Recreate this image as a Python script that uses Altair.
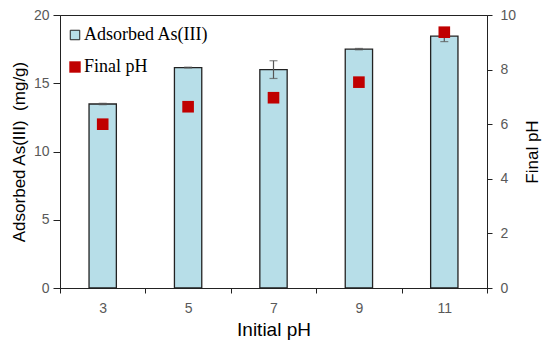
import altair as alt
import pandas as pd

initial_ph = ["3", "5", "7", "9", "11"]
adsorbed = [13.48, 16.15, 16.0, 17.5, 18.45]
adsorbed_err = [0.05, 0.03, 0.65, 0.05, 0.4]
final_ph = [6.0, 6.64, 6.97, 7.54, 9.37]

df = pd.DataFrame({
    "pH": initial_ph,
    "ads": adsorbed,
    "lo": [a - e for a, e in zip(adsorbed, adsorbed_err)],
    "hi": [a + e for a, e in zip(adsorbed, adsorbed_err)],
    "fph": final_ph,
    "s1": ["Adsorbed As(III)"] * 5,
    "s2": ["Final pH"] * 5,
})

x = alt.X("pH:N", sort=initial_ph, title="Initial pH",
          scale=alt.Scale(paddingInner=0, paddingOuter=0),
          axis=alt.Axis(labelAngle=0, tickBand="extent", tickSize=5, labelPadding=8,
                        titlePadding=5, titleFontSize=19))

yleft = alt.Y("ads:Q", title="Adsorbed As(III)\u00a0 (mg/g)",
              scale=alt.Scale(domain=[0, 20], nice=False),
              axis=alt.Axis(values=[0, 2.5, 5, 7.5, 10, 12.5, 15, 17.5, 20],
                            labelExpr="datum.value % 5 == 0 ? datum.label : ''",
                            tickSize={"condition": {"test": "datum.value % 5 == 0", "value": 7},
                                      "value": 4},
                            labelPadding=4, titlePadding=5, grid=False))

bars = alt.Chart(df).mark_bar(width=alt.RelativeBandSize(0.32), stroke="#222222",
                               strokeWidth=1.3).encode(
    x=x, y=yleft,
    fill=alt.Fill("s1:N", scale=alt.Scale(range=["#B7DEE8"]),
                  legend=alt.Legend(orient="none", legendX=6, legendY=11, title=None,
                                    symbolType="square", symbolSize=90,
                                    symbolStrokeColor="#222222", symbolStrokeWidth=1,
                                    labelFont="Liberation Serif", labelFontSize=18,
                                    labelColor="black", padding=0, labelOffset=0)),
)

rule = alt.Chart(df).mark_rule(color="#555555", strokeWidth=1.2).encode(
    x=x, y="lo:Q", y2="hi:Q")
cap_lo = alt.Chart(df).mark_tick(color="#555555", size=8, thickness=1.2,
                                 orient="horizontal").encode(x=x, y="lo:Q")
cap_hi = alt.Chart(df).mark_tick(color="#555555", size=8, thickness=1.2,
                                 orient="horizontal").encode(x=x, y="hi:Q")

left = alt.layer(bars, rule, cap_lo, cap_hi)

points = alt.Chart(df).mark_point(shape="square", filled=True, size=135, opacity=1).encode(
    x=x,
    y=alt.Y("fph:Q", title="Final pH", scale=alt.Scale(domain=[0, 10], nice=False),
            axis=alt.Axis(values=[0, 2, 4, 6, 8, 10], tickSize=5, labelPadding=8,
                          titleAngle=270, titlePadding=26, grid=False)),
    color=alt.Color("s2:N", scale=alt.Scale(range=["#C00000"]),
                    legend=alt.Legend(orient="none", legendX=6, legendY=43, title=None,
                                      symbolType="square", symbolSize=130,
                                      labelFont="Liberation Serif", labelFontSize=18,
                                      labelColor="black", padding=0, labelOffset=0)),
)

chart = alt.layer(left, points).resolve_scale(y="independent").properties(
    width=427, height=273,
    autosize=alt.AutoSizeParams(type="none"),
    padding={"left": 52, "top": 7, "right": 55, "bottom": 54},
).configure_view(stroke="#222222", strokeWidth=1).configure_axis(
    domainColor="#222222", tickColor="#222222", labelColor="#595959",
    labelFont="Liberation Sans", labelFontSize=14,
    titleFont="Liberation Sans", titleFontSize=17, titleFontWeight="normal",
    titleColor="black",
)

chart.save("out.html", embed_options={"renderer": "svg", "actions": False})
